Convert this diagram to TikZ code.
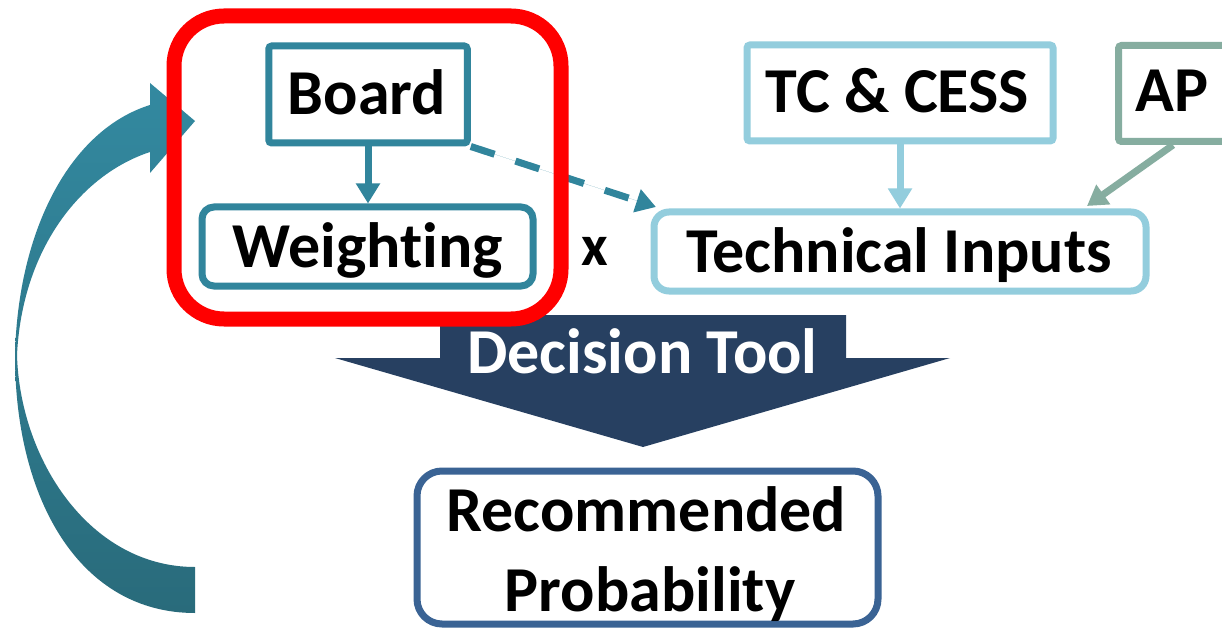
\documentclass[tikz,border=0pt]{standalone}
\usepackage{fontspec}
\setmainfont{Carlito}[Ligatures=NoCommon]
\usetikzlibrary{arrows.meta}
\definecolor{tealbox}{HTML}{31859C}
\definecolor{lblue}{HTML}{93CDDD}
\definecolor{apgreen}{HTML}{86ADA0}
\definecolor{navy}{HTML}{274061}
\definecolor{recblue}{HTML}{3A6394}
\definecolor{curvetop}{HTML}{3389A0}
\definecolor{curvebot}{HTML}{296B7B}
\tikzset{
  box/.style={draw, line width=7pt, inner sep=0pt, fill=white},
  lbl/.style={font=\fontsize{64}{70}\selectfont\bfseries, anchor=base, inner sep=0pt, text=black},
  conn/.style={line width=7pt, -{Triangle[width=23pt,length=20pt]}},
}
\begin{document}
\begin{tikzpicture}[x=1pt,y=-1pt]
\clip (0,0) rectangle (1222,628);
\fill[white] (0,0) rectangle (1222,628);

% curved feedback arrow
\shade[top color=curvetop, bottom color=curvebot]
  (195,613) .. controls (80,613) and (15,500) .. (15,355)
  .. controls (18,230) and (70,130) .. (150,105)
  -- (150,83) -- (195,121) -- (150,173) -- (150,152)
  .. controls (80,175) and (22,250) .. (17,355)
  .. controls (20,460) and (90,567) .. (195,567) -- cycle;

% decision tool arrow
\fill[navy] (440,315) -- (846,315) -- (846,358) -- (950,358) -- (643,447)
  -- (335,358) -- (440,358) -- cycle;
\node[lbl, text=white] (dtlabel) at (642.5,373) {Decision Tool};

% boxes
\node[box, draw=tealbox, minimum width=198.5pt, minimum height=97pt, rounded corners=3pt] (board) at (368,94.5) {};
\node[lbl] (boardlbl) at (367,115) {Board};
\node[box, draw=tealbox, minimum width=331pt, minimum height=79pt, rounded corners=12pt] (weighting) at (367.5,246.5) {};
\node[lbl] (weightlbl) at (367.5,267) {Weighting};

\node[box, draw=lblue, minimum width=306pt, minimum height=96pt, rounded corners=3pt] (tc) at (900,93) {};
\node[lbl] (tclbl) at (897.5,113) {TC \& CESS};
\node[box, draw=apgreen, minimum width=109pt, minimum height=96pt, rounded corners=3pt] (ap) at (1173,93.5) {};
\node[lbl] (aplbl) at (1172,112) {AP};
\node[box, draw=lblue, minimum width=492pt, minimum height=79pt, rounded corners=15pt] (ti) at (900,251.5) {};
\node[lbl] (tilbl) at (899,272) {Technical Inputs};

\node[lbl, font=\fontsize{58}{64}\selectfont\bfseries] (times) at (595,265) {x};

\node[box, draw=recblue, minimum width=461pt, minimum height=153pt, rounded corners=25pt] (rec) at (647.5,547.5) {};
\node[lbl] (reclbl1) at (646.5,531) {Recommended};
\node[lbl] (reclbl2) at (650,611) {Probability};

% connectors
\draw[conn, draw=tealbox, fill=tealbox] (board.south) -- (board.south |- weighting.north);
\draw[conn, draw=lblue, fill=lblue] (tc.south) -- (tc.south |- ti.north);
\coordinate (apin) at (1087,206);
\draw[conn, draw=apgreen, fill=apgreen] (ap.south) -- (apin);
\coordinate (dashin) at (656,207);
\draw[conn, draw=tealbox, fill=tealbox, dash pattern=on 25pt off 22pt] (board.south east) -- (dashin);

% highlight frame
\node[draw=red, line width=15pt, minimum width=387pt, minimum height=303pt, rounded corners=50pt, inner sep=0pt] (focus) at (367.5,167.5) {};
\end{tikzpicture}
\end{document}
